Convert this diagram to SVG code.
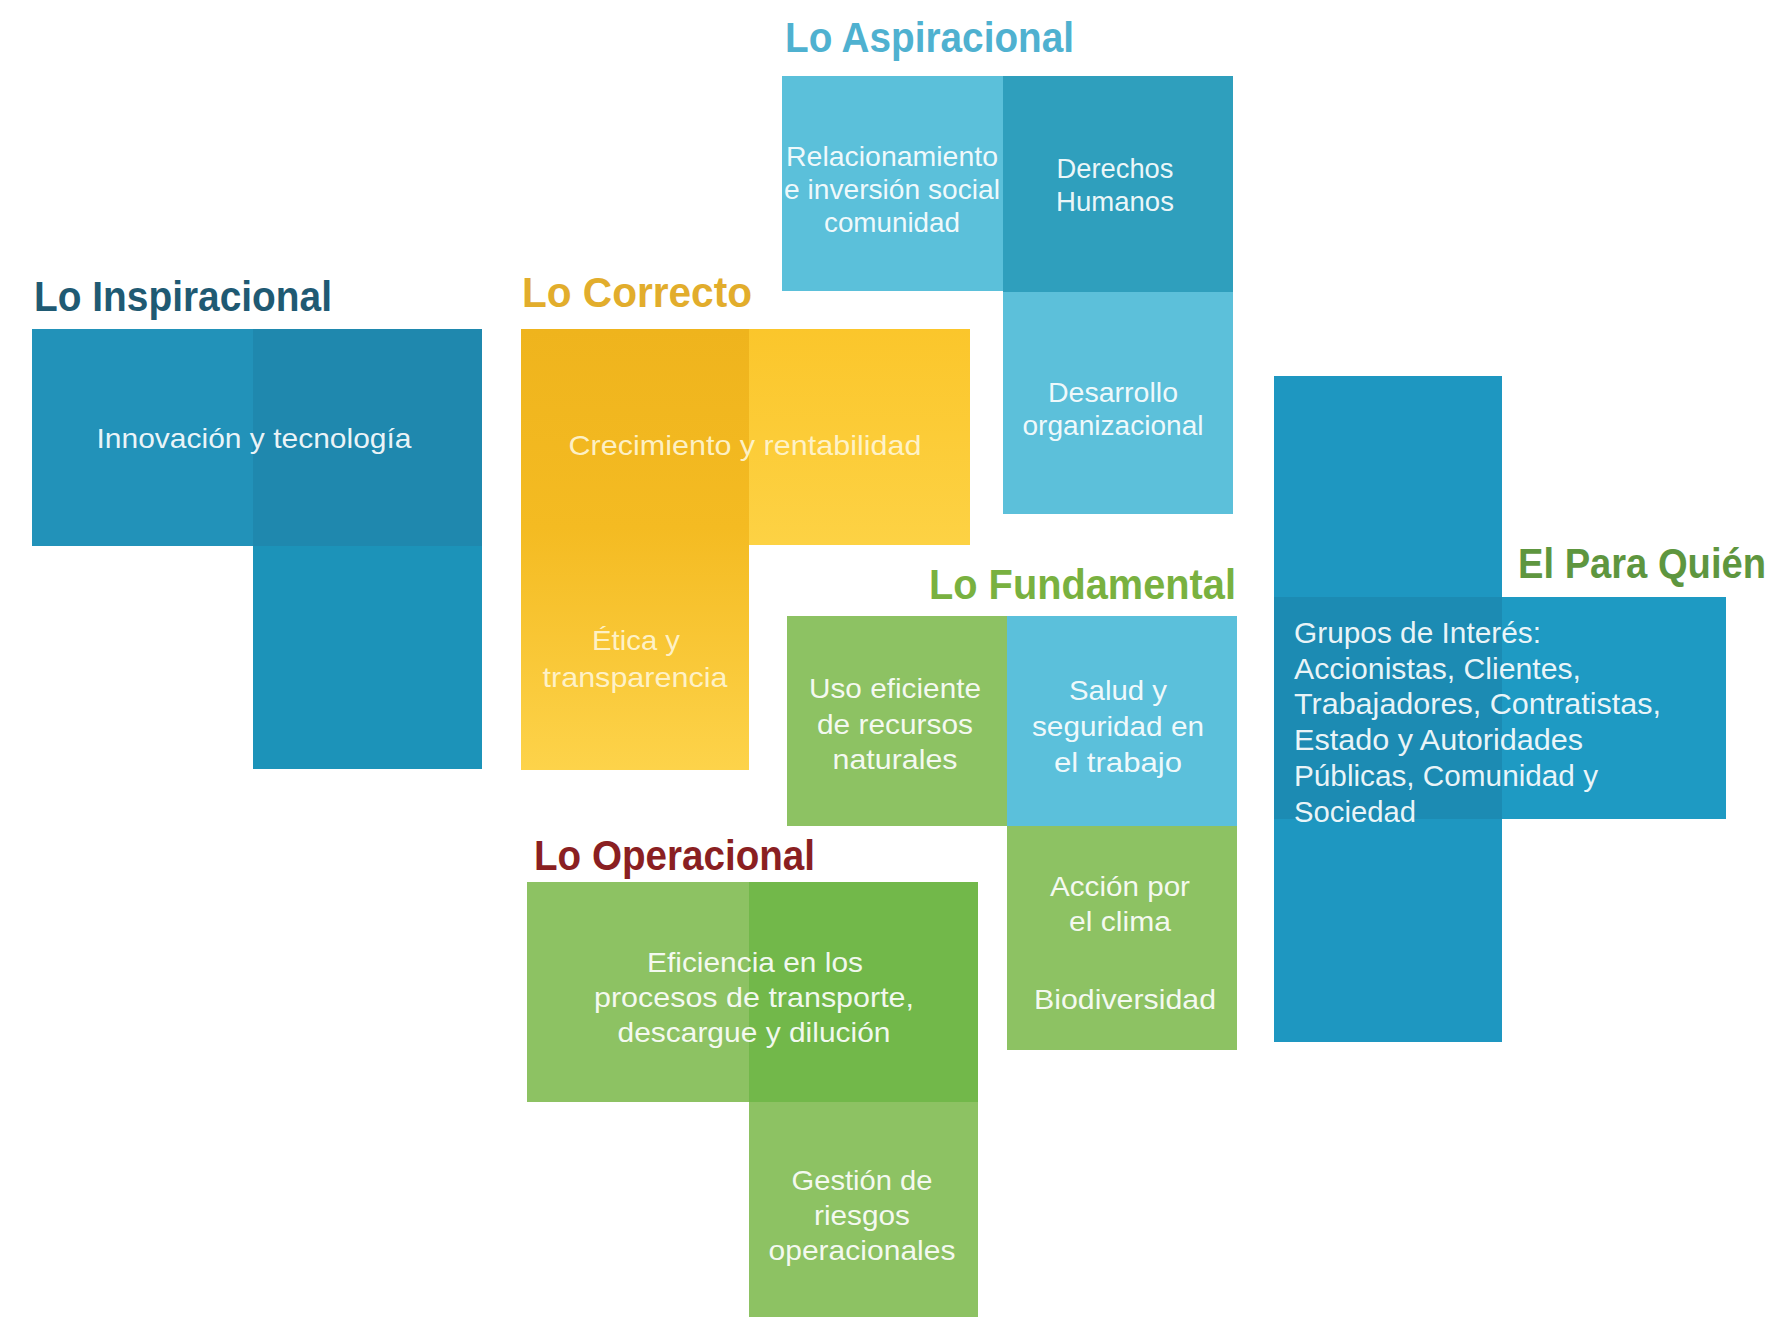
<svg xmlns="http://www.w3.org/2000/svg" width="1782" height="1317" viewBox="0 0 1782 1317">
<defs>
<linearGradient id="ylCol" x1="0" y1="0" x2="0" y2="1">
<stop offset="0" stop-color="#efb41d"/>
<stop offset="0.45" stop-color="#f4bb22"/>
<stop offset="1" stop-color="#fdd34a"/>
</linearGradient>
<linearGradient id="ylRow" x1="0" y1="0" x2="0" y2="1">
<stop offset="0" stop-color="#fbc62b"/>
<stop offset="1" stop-color="#fdd244"/>
</linearGradient>
<style>
.title{font-family:"Liberation Sans","DejaVu Sans",sans-serif;font-weight:bold;font-size:42px}
.t{font-family:"Liberation Sans","DejaVu Sans",sans-serif;font-size:28px;fill:#ffffff;fill-opacity:0.92;text-anchor:middle}
.tl{font-family:"Liberation Sans","DejaVu Sans",sans-serif;font-size:29px;fill:#ffffff;fill-opacity:0.92}
.ty{fill:#fff6d6}
</style>
</defs>
<rect width="1782" height="1317" fill="#ffffff"/>

<g id="connectors"></g>

<g id="lo-inspiracional">
<rect x="32" y="329" width="221" height="217" fill="#2292b9"/>
<rect x="253" y="329" width="229" height="217" fill="#1f88ae"/>
<rect x="253" y="546" width="229" height="223" fill="#1c93b9"/>
<text class="title" x="34" y="311" fill="#1f5a73" textLength="298" lengthAdjust="spacingAndGlyphs">Lo Inspiracional</text>
<text class="t" x="254" y="448" textLength="315" lengthAdjust="spacingAndGlyphs">Innovación y tecnología</text>
</g>

<g id="lo-correcto">
<rect x="521" y="329" width="228" height="441" fill="url(#ylCol)"/>
<rect x="749" y="329" width="221" height="216" fill="url(#ylRow)"/>
<text class="title" x="522" y="307" fill="#e2ad2c" textLength="230" lengthAdjust="spacingAndGlyphs">Lo Correcto</text>
<text class="t ty" x="745" y="455" textLength="353" lengthAdjust="spacingAndGlyphs">Crecimiento y rentabilidad</text>
<text class="t ty" x="636" y="650" textLength="88" lengthAdjust="spacingAndGlyphs">Ética y</text>
<text class="t ty" x="635" y="687" textLength="185" lengthAdjust="spacingAndGlyphs">transparencia</text>
</g>

<g id="lo-aspiracional">
<rect x="782" y="76" width="221" height="215" fill="#5bc0da"/>
<rect x="1003" y="76" width="230" height="216" fill="#2f9fbd"/>
<rect x="1003" y="292" width="230" height="222" fill="#5cc0da"/>
<text class="title" x="785" y="52" fill="#4fb1d0" textLength="289" lengthAdjust="spacingAndGlyphs">Lo Aspiracional</text>
<text class="t" x="892" y="166" textLength="212" lengthAdjust="spacingAndGlyphs">Relacionamiento</text>
<text class="t" x="892" y="199" textLength="216" lengthAdjust="spacingAndGlyphs">e inversión social</text>
<text class="t" x="892" y="232" textLength="136" lengthAdjust="spacingAndGlyphs">comunidad</text>
<text class="t" x="1115" y="178" textLength="117" lengthAdjust="spacingAndGlyphs">Derechos</text>
<text class="t" x="1115" y="211" textLength="118" lengthAdjust="spacingAndGlyphs">Humanos</text>
<text class="t" x="1113" y="402" textLength="130" lengthAdjust="spacingAndGlyphs">Desarrollo</text>
<text class="t" x="1113" y="435" textLength="181" lengthAdjust="spacingAndGlyphs">organizacional</text>
</g>

<g id="lo-fundamental">
<rect x="787" y="616" width="220" height="210" fill="#8dc263"/>
<rect x="1007" y="616" width="230" height="210" fill="#5bc0db"/>
<rect x="1007" y="826" width="230" height="224" fill="#8dc263"/>
<text class="title" x="929" y="599" fill="#79b140" textLength="307" lengthAdjust="spacingAndGlyphs">Lo Fundamental</text>
<text class="t" x="895" y="698" textLength="172" lengthAdjust="spacingAndGlyphs">Uso eficiente</text>
<text class="t" x="895" y="734" textLength="156" lengthAdjust="spacingAndGlyphs">de recursos</text>
<text class="t" x="895" y="769" textLength="125" lengthAdjust="spacingAndGlyphs">naturales</text>
<text class="t" x="1118" y="700" textLength="98" lengthAdjust="spacingAndGlyphs">Salud y</text>
<text class="t" x="1118" y="736" textLength="172" lengthAdjust="spacingAndGlyphs">seguridad en</text>
<text class="t" x="1118" y="772" textLength="128" lengthAdjust="spacingAndGlyphs">el trabajo</text>
<text class="t" x="1120" y="896" textLength="140" lengthAdjust="spacingAndGlyphs">Acción por</text>
<text class="t" x="1120" y="931" textLength="102" lengthAdjust="spacingAndGlyphs">el clima</text>
<text class="t" x="1125" y="1009" textLength="182" lengthAdjust="spacingAndGlyphs">Biodiversidad</text>
</g>

<g id="lo-operacional">
<rect x="527" y="882" width="222" height="220" fill="#8dc263"/>
<rect x="749" y="882" width="229" height="220" fill="#72b84a"/>
<rect x="749" y="1102" width="229" height="215" fill="#8dc263"/>
<text class="title" x="534" y="870" fill="#8a1f22" textLength="281" lengthAdjust="spacingAndGlyphs">Lo Operacional</text>
<text class="t" x="755" y="972" textLength="216" lengthAdjust="spacingAndGlyphs">Eficiencia en los</text>
<text class="t" x="754" y="1007" textLength="320" lengthAdjust="spacingAndGlyphs">procesos de transporte,</text>
<text class="t" x="754" y="1042" textLength="273" lengthAdjust="spacingAndGlyphs">descargue y dilución</text>
<text class="t" x="862" y="1190" textLength="141" lengthAdjust="spacingAndGlyphs">Gestión de</text>
<text class="t" x="862" y="1225" textLength="96" lengthAdjust="spacingAndGlyphs">riesgos</text>
<text class="t" x="862" y="1260" textLength="187" lengthAdjust="spacingAndGlyphs">operacionales</text>
</g>

<g id="el-para-quien">
<rect x="1274" y="376" width="228" height="666" fill="#1e97c1"/>
<rect x="1502" y="597" width="224" height="222" fill="#1e9ac3"/>
<rect x="1274" y="597" width="228" height="222" fill="#1c8bb3"/>
<text class="title" x="1518" y="578" fill="#5e963f" textLength="248" lengthAdjust="spacingAndGlyphs">El Para Quién</text>
<text class="tl" x="1294" y="643" textLength="247" lengthAdjust="spacingAndGlyphs">Grupos de Interés:</text>
<text class="tl" x="1294" y="679" textLength="287" lengthAdjust="spacingAndGlyphs">Accionistas, Clientes,</text>
<text class="tl" x="1294" y="714" textLength="367" lengthAdjust="spacingAndGlyphs">Trabajadores, Contratistas,</text>
<text class="tl" x="1294" y="750" textLength="289" lengthAdjust="spacingAndGlyphs">Estado y Autoridades</text>
<text class="tl" x="1294" y="786" textLength="304" lengthAdjust="spacingAndGlyphs">Públicas, Comunidad y</text>
<text class="tl" x="1294" y="822" textLength="122" lengthAdjust="spacingAndGlyphs">Sociedad</text>
</g>
</svg>
